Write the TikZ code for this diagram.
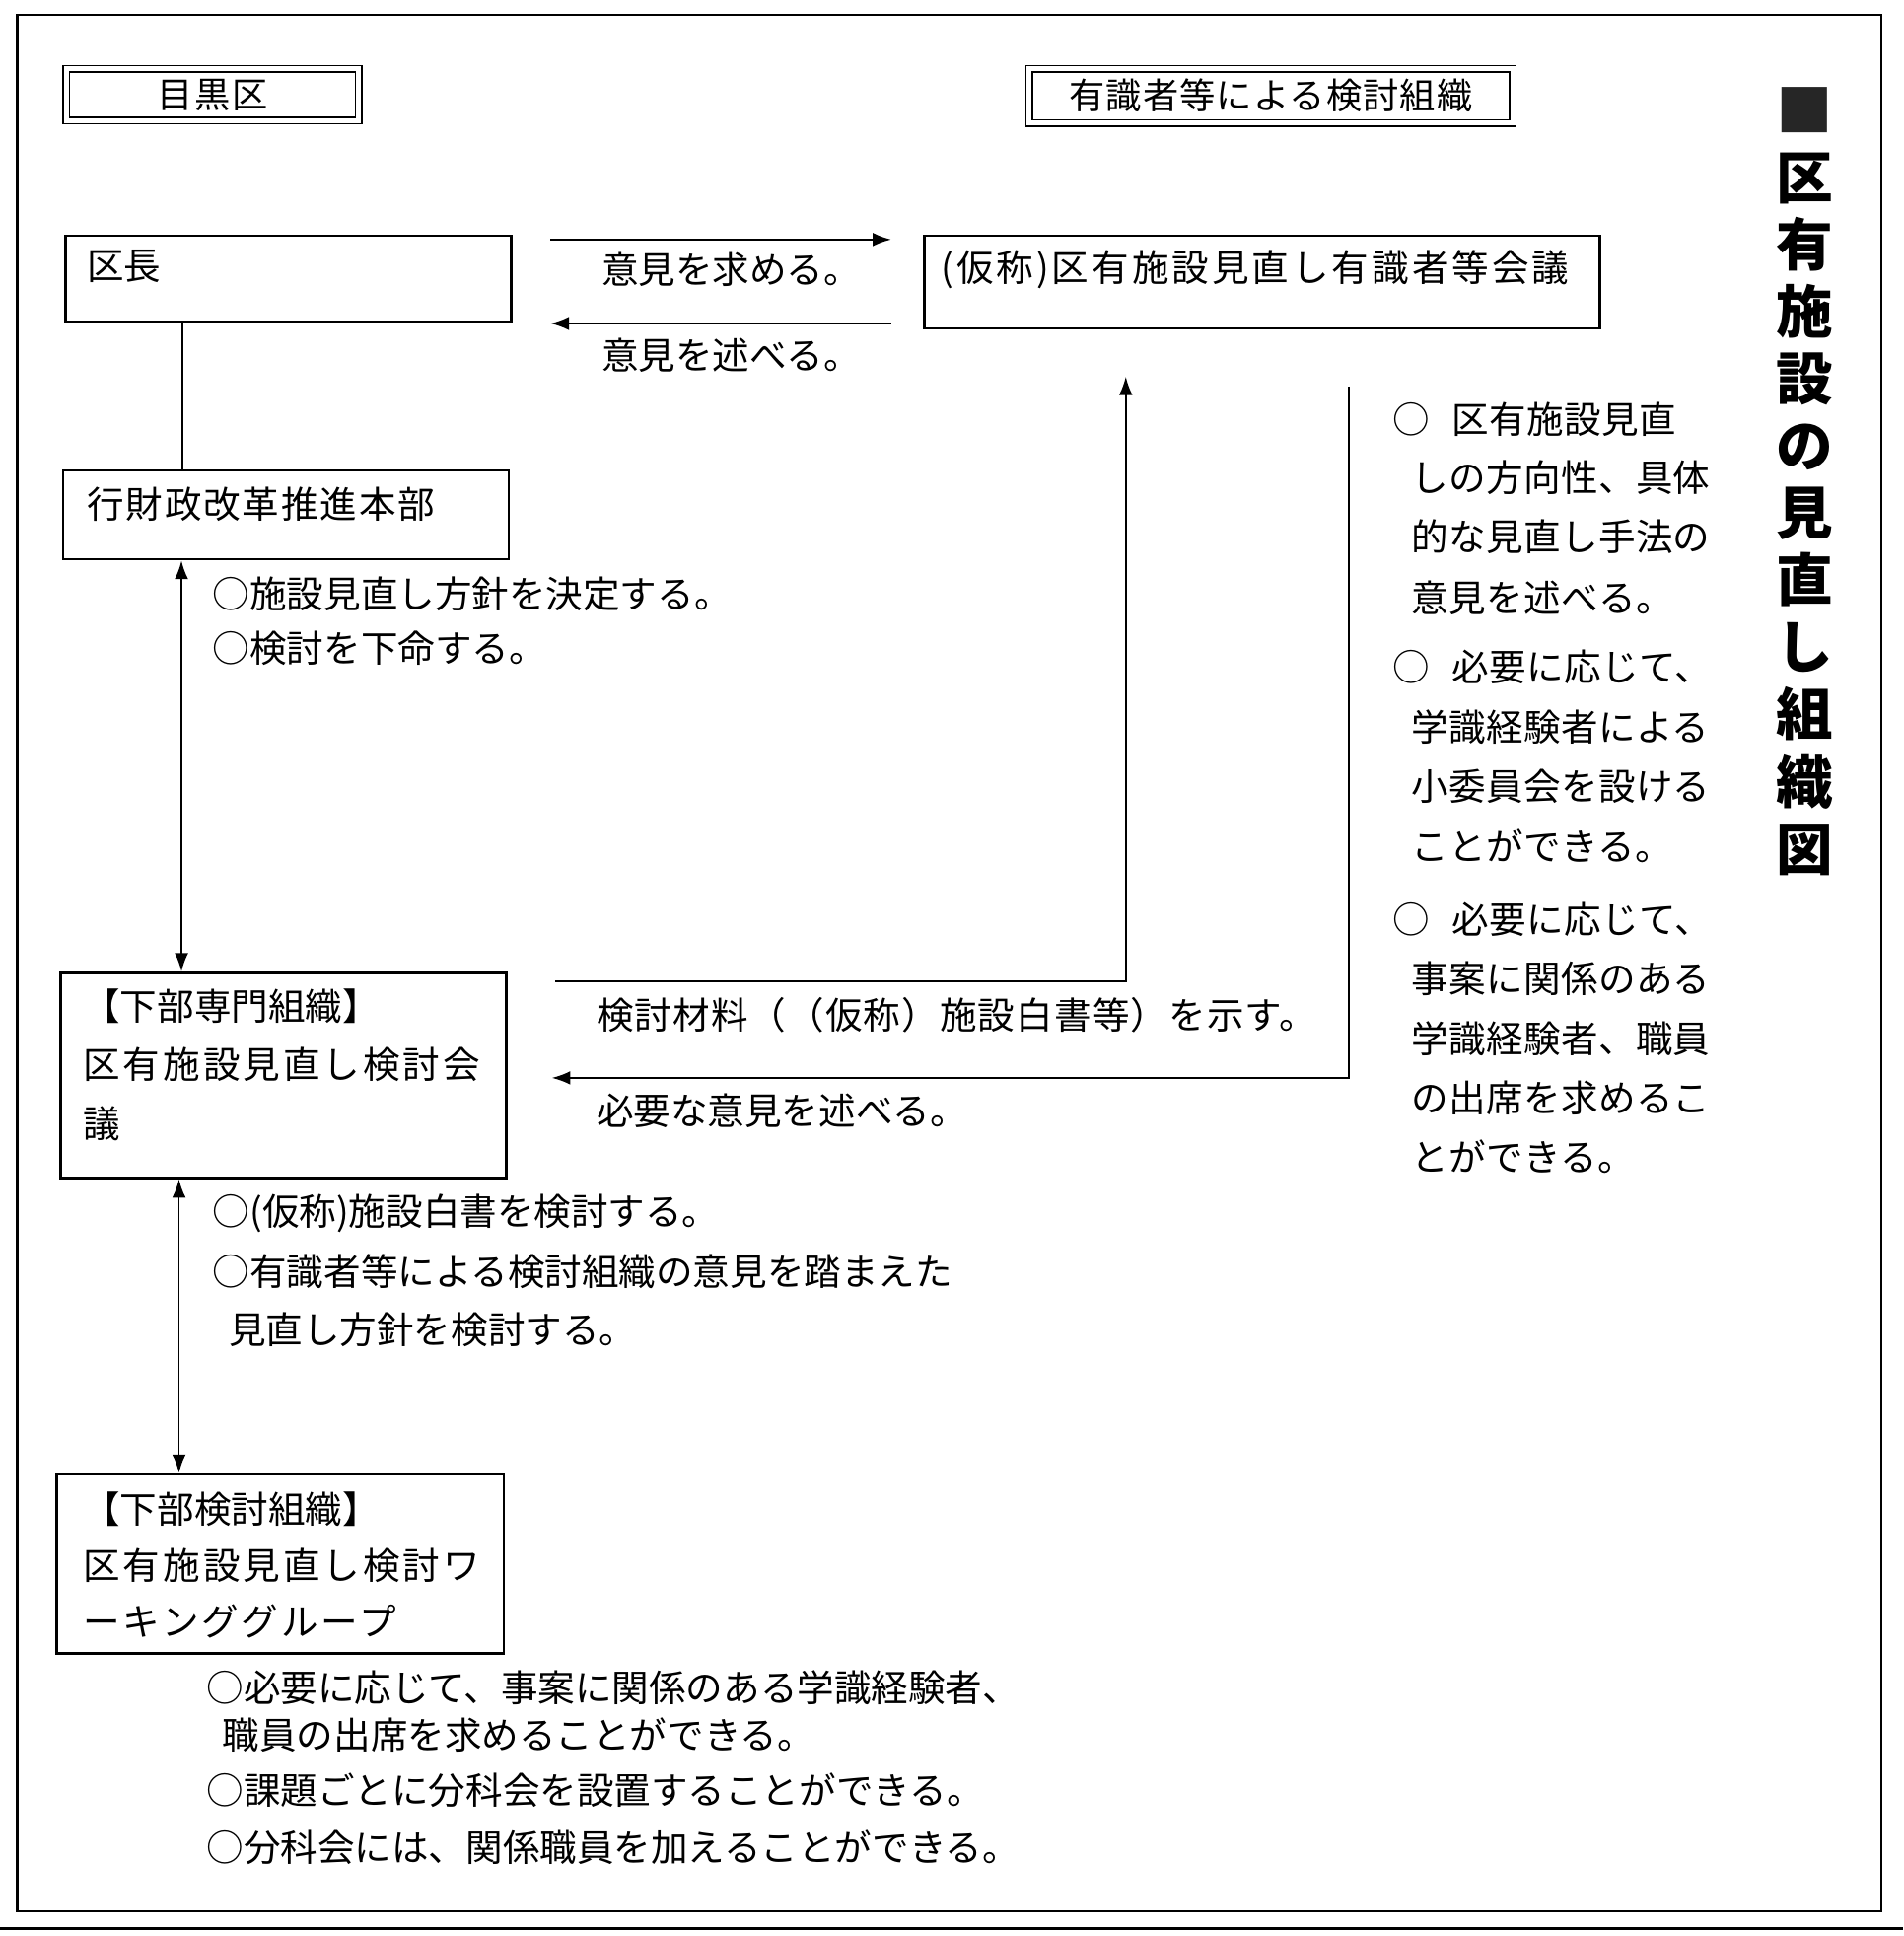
\documentclass[tikz,border=0pt]{standalone}
\usepackage{fontspec}
\setmainfont{Noto Sans CJK JP}
\usetikzlibrary{arrows.meta}
\begin{document}
\begin{tikzpicture}[x=0.5pt,y=-0.5pt,
  box/.style={draw, line width=1pt, anchor=north west, inner sep=0pt},
  dbox/.style={draw, line width=0.6pt, double, double distance=2pt, anchor=north west, inner sep=0pt,
    font=\fontsize{14.5}{17}\selectfont},
  txt/.style={anchor=west, inner sep=0pt, font=\fontsize{15}{17}\selectfont},
  wtxt/.style={anchor=west, inner sep=0pt, font=\fontsize{15}{17}\selectfont\addfontfeature{LetterSpace=8}},
  rtxt/.style={anchor=west, inner sep=0pt, font=\fontsize{15}{17}\selectfont\addfontfeature{LetterSpace=1}},
  conn/.style={line width=0.75pt},
  arr/.style={conn, -{Latex[length=7.5pt,width=5.5pt]}},
  darr/.style={conn, {Latex[length=7.5pt,width=5.5pt]}-{Latex[length=7.5pt,width=5.5pt]}},
  title/.style={anchor=north, inner sep=0pt, align=center, font=\fontsize{23}{27.2}\selectfont\bfseries}
]
\useasboundingbox (0,0) rectangle (1542,1568);
\fill[white] (0,0) rectangle (1542,1568);
% frame
\draw[line width=1.1pt] (14,12) rectangle (1524,1548);
\draw[line width=0.9pt] (0,1562) -- (1542,1562);

% header boxes
\node[dbox, minimum width=118.5pt, minimum height=21pt] (meguro) at (53,55) {\addfontfeature{LetterSpace=4}目黒区};
\node[dbox, minimum width=196pt, minimum height=22pt] (yushiki) at (833,55) {\addfontfeature{LetterSpace=3}有識者等による検討組織};

% boxes
\node[box, minimum width=180.5pt, minimum height=35pt] (kucho) at (52,190) {};
\node[box, minimum width=273.5pt, minimum height=37.5pt] (kaigi) at (748,190) {};
\node[box, minimum width=180.5pt, minimum height=36pt] (honbu) at (50,380) {};
\node[box, minimum width=180.5pt, minimum height=83pt] (senmon) at (48,787) {};
\node[box, minimum width=181pt, minimum height=72.5pt] (wg) at (45,1193) {};

% box texts
\node[txt] (tkucho) at (70,216) {区長};
\node[wtxt] (tkaigi) at (762,218) {(仮称)区有施設見直し有識者等会議};
\node[txt, font=\fontsize{15}{17}\selectfont\addfontfeature{LetterSpace=5}] (thonbu) at (70,408) {行財政改革推進本部};
\node[txt] (tsen1) at (67,815) {【下部専門組織】};
\node[wtxt] (tsen2) at (67,862) {区有施設見直し検討会};
\node[txt] (tsen3) at (67,910) {議};
\node[txt] (twg1) at (67,1222) {【下部検討組織】};
\node[wtxt] (twg2) at (67,1268) {区有施設見直し検討ワ};
\node[wtxt] (twg3) at (67,1313) {ーキンググループ};

% connectors
\coordinate (q1s) at (446,194); \coordinate (q1e) at (722,194);
\draw[arr] (q1s) -- (q1e);
\coordinate (q2s) at (722,262); \coordinate (q2e) at (446,262);
\draw[arr] (q2s) -- (q2e);
\coordinate (xa) at (148,0);
\draw[conn] (kucho.south -| xa) -- (honbu.north -| xa);
\coordinate (xb) at (147,0);
\draw[darr] (honbu.south -| xb) -- (senmon.north -| xb);
\coordinate (xc) at (145,0);
\draw[darr] (senmon.south -| xc) -- (wg.north -| xc);
\coordinate (m1) at (450,795); \coordinate (m2) at (912,305);
\draw[arr] (m1) -| (m2);
\coordinate (n1) at (1093,313); \coordinate (n2) at (447,873);
\draw[arr] (n1) |- (n2);

% connector labels
\node[txt] (l1) at (487,218) {意見を求める。};
\node[txt] (l2) at (487,288) {意見を述べる。};
\node[txt, font=\fontsize{15}{17}\selectfont\addfontfeature{LetterSpace=3}] (l3) at (483,822) {検討材料（（仮称）施設白書等）を示す。};
\node[txt] (l4) at (483,900) {必要な意見を述べる。};

% notes
\node[txt] (a1) at (172,481) {○施設見直し方針を決定する。};
\node[txt] (a2) at (172,525) {○検討を下命する。};
\node[txt] (b1) at (172,983) {○(仮称)施設白書を検討する。};
\node[txt] (b2) at (172,1030) {○有識者等による検討組織の意見を踏まえた};
\node[txt] (b3) at (185,1077) {見直し方針を検討する。};
\node[txt] (c1) at (167,1367) {○必要に応じて、事案に関係のある学識経験者、};
\node[txt] (c2) at (180,1405) {職員の出席を求めることができる。};
\node[txt] (c3) at (167,1450) {○課題ごとに分科会を設置することができる。};
\node[txt] (c4) at (167,1496) {○分科会には、関係職員を加えることができる。};

% right column
\node[rtxt] (r1) at (1128,340) {○\hspace{9pt}区有施設見直};
\node[rtxt] (r2) at (1143,387) {しの方向性、具体};
\node[rtxt] (r3) at (1143,435) {的な見直し手法の};
\node[rtxt] (r4) at (1143,484) {意見を述べる。};
\node[rtxt] (r5) at (1128,540) {○\hspace{9pt}必要に応じて、};
\node[rtxt] (r6) at (1143,589) {学識経験者による};
\node[rtxt] (r7) at (1143,637) {小委員会を設ける};
\node[rtxt] (r8) at (1143,685) {ことができる。};
\node[rtxt] (r9) at (1128,745) {○\hspace{9pt}必要に応じて、};
\node[rtxt] (r10) at (1143,793) {事案に関係のある};
\node[rtxt] (r11) at (1143,841) {学識経験者、職員};
\node[rtxt] (r12) at (1143,889) {の出席を求めるこ};
\node[rtxt] (r13) at (1143,937) {とができる。};

% title
\node[title] (ttl) at (1462,70) {{\color{black!85}■}\\区\\有\\施\\設\\の\\見\\直\\し\\組\\織\\図};
\end{tikzpicture}
\end{document}
